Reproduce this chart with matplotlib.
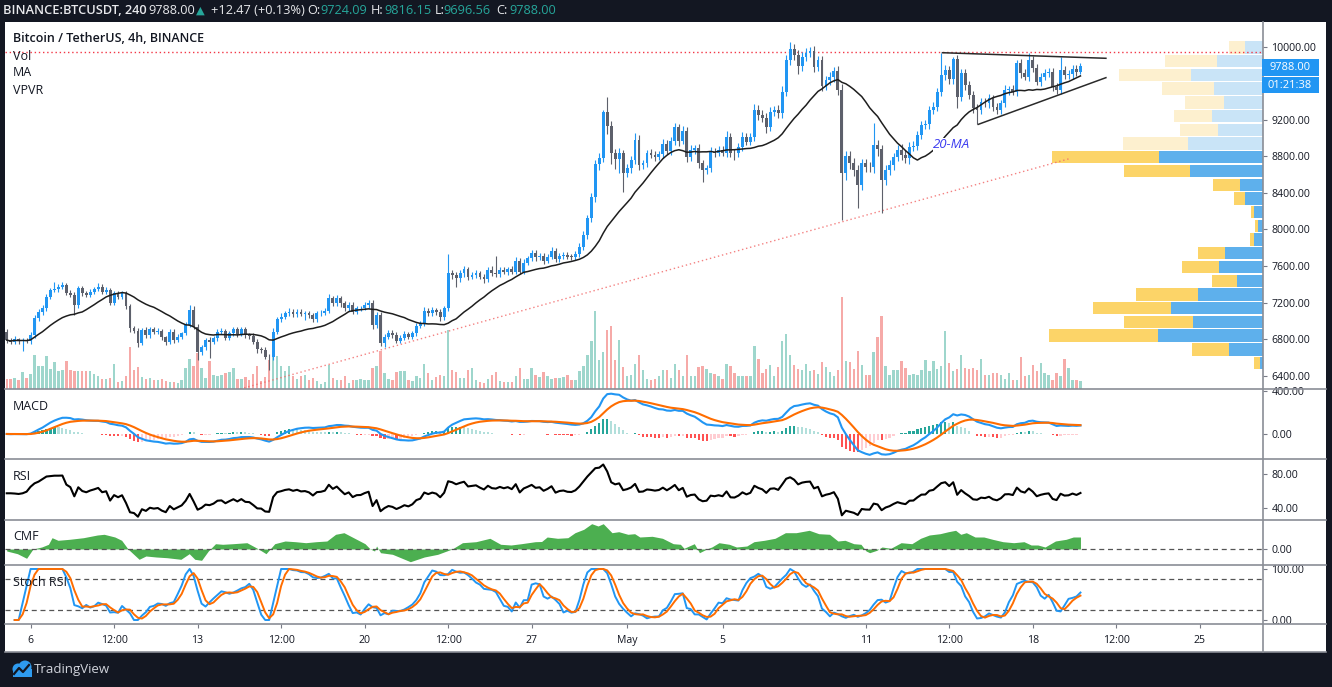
import numpy as np
import pandas as pd
import matplotlib
matplotlib.use("Agg")
import matplotlib.pyplot as plt
from matplotlib.patches import Rectangle, Circle
from matplotlib.lines import Line2D

plt.rcParams['font.family'] = ['Open Sans', 'DejaVu Sans']

# ---------------- data (4h candles, 5 Apr 00:00 -> 20 May 00:00) ----------------
first_open = 6882.0
close = [
    6790, 6770, 6800, 6780, 6790, 6775, 6846, 7028, 7100, 7138,
    7265, 7338, 7350, 7375, 7393, 7310, 7284, 7174, 7356, 7302,
    7284, 7320, 7345, 7375, 7320, 7338, 7200, 7300, 7265, 7302,
    7163, 6919, 6893, 6762, 6900, 6846, 6908, 6882, 6893, 6820,
    6773, 6882, 6791, 6828, 6864, 6955, 7119, 6937, 6663, 6710,
    6791, 6773, 6810, 6882, 6890, 6817, 6864, 6908, 6857, 6908,
    6846, 6840, 6773, 6690, 6685, 6609, 6600, 6882, 7017, 7046,
    7083, 7101, 7075, 7101, 7075, 7083, 7064, 7017, 7083, 7090,
    7112, 7247, 7192, 7247, 7192, 7137, 7174, 7101, 7137, 7140,
    7174, 7199, 6955, 7064, 6762, 6827, 6871, 6846, 6784, 6816,
    6856, 6827, 6864, 6944, 6973, 7112, 7083, 7119, 7101, 7039,
    7137, 7520, 7502, 7465, 7520, 7564, 7483, 7502, 7520, 7483,
    7454, 7557, 7520, 7513, 7557, 7538, 7564, 7538, 7659, 7538,
    7637, 7684, 7739, 7695, 7710, 7659, 7703, 7768, 7673, 7710,
    7721, 7703, 7700, 7732, 7812, 7939, 8122, 8352, 8716, 8778,
    9289, 9130, 8834, 8768, 8834, 8615, 8670, 8761, 8980, 8706,
    8724, 8834, 8820, 8797, 8826, 8936, 8863, 8972, 9118, 8972,
    9082, 8797, 8870, 8889, 8724, 8651, 8670, 8852, 8834, 8870,
    8841, 9016, 8841, 8834, 8899, 9016, 8961, 9016, 9308, 9253,
    9217, 9125, 9290, 9308, 9271, 9508, 9855, 9971, 9910, 9789,
    9891, 9935, 9953, 9782, 9855, 9570, 9636, 9672, 9738, 9527,
    8615, 8804, 8724, 8651, 8487, 8724, 8688, 8680, 8925, 8878,
    8542, 8650, 8706, 8797, 8870, 8815, 8779, 8907, 8914, 9034,
    9144, 9150, 9307, 9344, 9508, 9690, 9745, 9645, 9862, 9453,
    9709, 9581, 9472, 9326, 9307, 9398, 9380, 9435, 9344, 9307,
    9380, 9526, 9533, 9508, 9818, 9708, 9672, 9854, 9763, 9617,
    9672, 9708, 9727, 9562, 9526, 9745, 9690, 9700, 9760, 9724.09, 9788.00,
]
upper_wick = [
    25, 20, 30, 15, 25, 20, 30, 40, 30, 35,
    30, 25, 72, 30, 35, 25, 30, 30, 30, 25,
    25, 30, 25, 35, 25, 30, 25, 30, 25, 30,
    25, 20, 25, 30, 25, 30, 25, 20, 30, 20,
    20, 25, 30, 25, 20, 30, 55, 40, 30, 25,
    25, 30, 25, 25, 30, 25, 25, 30, 25, 20,
    25, 20, 25, 25, 20, 25, 30, 40, 30, 35,
    30, 35, 30, 25, 30, 25, 30, 25, 30, 25,
    30, 45, 30, 35, 30, 25, 30, 35, 30, 25,
    35, 30, 30, 30, 30, 25, 30, 25, 30, 25,
    30, 25, 30, 35, 30, 40, 30, 35, 25, 30,
    30, 212, 40, 30, 35, 40, 30, 35, 40, 30,
    30, 35, 40, 190, 30, 35, 30, 35, 40, 30,
    35, 30, 40, 35, 30, 35, 30, 40, 35, 30,
    30, 35, 30, 30, 40, 45, 40, 50, 40, 60,
    20, 164, 60, 50, 60, 40, 50, 40, 72, 50,
    40, 35, 50, 40, 35, 50, 40, 45, 50, 40,
    45, 40, 50, 40, 45, 40, 35, 50, 40, 45,
    40, 60, 40, 40, 45, 50, 40, 45, 60, 55,
    50, 60, 45, 45, 50, 60, 50, 84, 60, 55,
    50, 55, 45, 50, 45, 40, 45, 50, 45, 55,
    60, 60, 50, 55, 60, 50, 45, 45, 237, 50,
    50, 60, 50, 45, 50, 60, 50, 55, 50, 45,
    45, 50, 45, 50, 45, 244, 50, 45, 22, 45,
    45, 45, 40, 45, 50, 40, 45, 50, 40, 45,
    40, 50, 40, 45, 40, 45, 50, 80, 45, 45,
    40, 50, 40, 45, 40, 146, 45, 40, 45, 40, 28.15,
]
lower_wick = [
    30, 25, 20, 30, 105, 20, 25, 30, 25, 30,
    25, 30, 20, 30, 25, 30, 25, 109, 30, 30,
    25, 25, 30, 20, 25, 30, 25, 30, 25, 20,
    30, 40, 30, 45, 25, 30, 30, 25, 25, 30,
    40, 25, 35, 20, 25, 20, 25, 30, 91, 35,
    25, 183, 25, 30, 25, 30, 25, 25, 30, 25,
    30, 35, 30, 40, 35, 30, 137, 30, 25, 30,
    25, 30, 35, 30, 25, 60, 30, 25, 30, 25,
    25, 30, 30, 25, 35, 30, 25, 30, 25, 30,
    25, 30, 40, 35, 40, 45, 30, 35, 30, 25,
    25, 30, 25, 30, 25, 30, 25, 30, 35, 40,
    30, 30, 40, 91, 35, 40, 35, 30, 35, 30,
    35, 30, 30, 35, 30, 30, 35, 30, 25, 30,
    30, 25, 30, 35, 30, 35, 30, 25, 30, 30,
    30, 25, 30, 35, 30, 35, 40, 45, 50, 60,
    40, 80, 120, 110, 150, 200, 40, 50, 45, 60,
    40, 45, 40, 50, 40, 45, 40, 50, 45, 60,
    40, 60, 45, 40, 50, 130, 40, 45, 40, 35,
    40, 50, 45, 70, 40, 45, 40, 35, 45, 50,
    45, 70, 50, 45, 50, 55, 50, 50, 55, 87,
    55, 50, 45, 60, 50, 60, 45, 50, 55, 60,
    511, 70, 60, 70, 248, 60, 55, 50, 60, 70,
    357, 60, 55, 50, 45, 55, 50, 60, 50, 45,
    40, 45, 50, 45, 50, 45, 50, 55, 50, 127,
    45, 50, 45, 50, 154, 45, 40, 50, 45, 40,
    45, 40, 50, 40, 45, 50, 40, 45, 40, 40,
    45, 40, 45, 50, 45, 40, 45, 40, 50, 40, 27.53,
]
volume = [
    10.3, 10.3, 11, 9.3, 16.7, 11, 15, 34.3, 23.3, 23.3,
    33.3, 20, 27, 18.3, 19.3, 27.7, 19.3, 17.7, 17.7, 17.7,
    17.7, 17.7, 15, 13.3, 10.3, 10.3, 11, 25, 6.7, 7.7,
    13.3, 42, 18.7, 21.7, 12, 10.3, 11.3, 9.3, 8.7, 10.3,
    7.7, 7, 6.7, 6, 8.7, 21, 30, 22.7, 36, 21,
    11, 28.3, 14.3, 12.7, 14.3, 16, 17, 21, 10.3, 10,
    11.7, 8.7, 15, 23.3, 7.7, 11.7, 29.3, 34.3, 33.3, 23.3,
    17.7, 23.3, 13.3, 10, 13.3, 14.3, 9.3, 11, 7.7, 5.3,
    6.7, 24.3, 11, 9.3, 9.3, 12.7, 6, 8.7, 9.3, 10,
    9.3, 9.3, 21, 22.7, 37.7, 16, 10, 9.3, 16.7, 17.7,
    17.7, 8.7, 7.7, 13.3, 11, 25.3, 16, 8.7, 12, 14.3,
    12.7, 58.7, 18.7, 16.7, 11, 11, 19.3, 21, 9.3, 6.7,
    6, 10, 14.3, 16.7, 7.7, 6.7, 6.7, 6.7, 13.3, 21,
    10, 10, 21, 14.3, 12, 16.7, 12.7, 10, 11, 11,
    12, 14.3, 8.7, 8.7, 17.7, 22.7, 34.3, 48.3, 77.7, 29.3,
    36.7, 59.3, 62.7, 28.7, 48.7, 21.7, 12.7, 14.3, 24.7, 33.7,
    18.7, 10, 9.3, 10, 13.3, 18.7, 19.3, 10.7, 24.7, 18.7,
    12.7, 34.3, 12.7, 12.7, 21.7, 22.7, 20.3, 16, 15.3, 13.3,
    10.3, 25, 23.3, 16, 12.7, 13.3, 13.3, 12.7, 42.7, 30.3,
    16, 20.3, 23.7, 12.7, 21.7, 47.7, 55.3, 33.7, 24.3, 20.3,
    19.3, 25.3, 18.3, 19.3, 15, 27, 21.7, 16.7, 12.7, 18.7,
    91.7, 27.7, 27, 20.3, 37.7, 24.3, 14.3, 14.3, 36.7, 52,
    72.7, 22.7, 14.3, 19.3, 19.3, 28.3, 21, 14.3, 15.3, 14.3,
    18.7, 29.3, 17.7, 28.3, 20.3, 23.3, 58.3, 26, 17.7, 20,
    33.7, 21, 20, 21, 19.3, 30, 14.3, 14.3, 16, 16,
    14.3, 10, 16, 9.3, 9.3, 32, 12.7, 14.3, 24.3, 17.7,
    26, 16, 14.3, 9.3, 16, 12.7, 30, 21, 9.3, 9.3, 7.7,
]
# RSI for the first candles (their history lies before the visible range)
rsi_head = [57.3, 57.3, 57.0, 56.5, 57.3, 59.2, 65, 69, 71, 74, 77, 77.5, 78, 78]
# Chaikin Money Flow: candle position -> value
cmf_idx = [0, 2.7, 5, 6.6, 8.8, 10.5, 11.4, 12.9, 15.8, 19.3, 22.8, 24.5, 27.2, 28.9,
           30.5, 31.5, 33.3, 35, 37.6, 40.3, 43.8, 45.9, 47.3, 49, 50.7, 52.5, 54.3,
           56.9, 60.4, 63, 65.2, 67.4, 70, 72.6, 75.2, 77.8, 80.5, 82.7, 84.8, 87.5,
           90.1, 91.4, 92.5, 93, 94, 97, 101.5, 105, 108.4, 112, 114.6, 118, 121.5,
           124.2, 126.8, 129.4, 132.9, 134.5, 135.9, 138.5, 141.1, 142.9, 145.1, 147.1,
           148.7, 150, 152.2, 153.9, 156.2, 157.9, 159.2, 162.3, 164.9, 167.6, 169.4,
           170.3, 172.9, 174.2, 176.4, 177.3, 179.1, 181.7, 183.5, 186.1, 187.9, 190.5,
           193.2, 195.8, 198.5, 201.8, 204.2, 206.9, 209, 210.8, 213, 214.8, 216.1, 217,
           218.8, 220.1, 222.3, 224.9, 227.6, 229.8, 232, 234.7, 236.8, 238.6, 239.9,
           241.3, 243.5, 245.7, 247.9, 250.5, 253.2, 255.8, 257.6, 259.3, 261.1, 263.7,
           266.4, 268.2, 270]
cmf_val = [-0.02, -0.047, -0.093, 0, 0.02, 0.047, 0.113, 0.087, 0.097, 0.113, 0.14, 0.147,
           0.12, 0.087, 0, -0.037, -0.103, -0.07, -0.08, -0.087, -0.103, -0.047, -0.103,
           -0.113, -0.02, 0.053, 0.047, 0.053, 0.063, 0.007, -0.047, 0.053, 0.08, 0.073,
           0.063, 0.073, 0.08, 0.147, 0.163, 0.107, 0.053, 0, -0.02, 0.03, -0.037, -0.053,
           -0.127, -0.08, -0.053, 0, 0.063, 0.073, 0.107, 0.047, 0.04, 0.053, 0.073, 0.075,
           0.12, 0.107, 0.113, 0.163, 0.197, 0.253, 0.23, 0.253, 0.163, 0.173, 0.147, 0.153,
           0.12, 0.127, 0.107, 0.053, 0.047, 0.007, 0.053, -0.037, 0.007, 0.02, 0.063,
           0.047, 0.02, 0.03, 0.073, 0.087, 0.107, 0.163, 0.163, 0.187, 0.153, 0.147, 0.08,
           0.087, 0.053, 0.047, -0.02, -0.037, -0.013, 0.02, 0.007, 0.063, 0.053, 0.107,
           0.14, 0.153, 0.173, 0.187, 0.147, 0.163, 0.12, 0.12, 0.097, 0.073, 0.063, 0.073,
           0.04, 0.04, 0.02, 0.08, 0.097, 0.12, 0.12]
# Visible-range volume profile, 24 rows from bottom to top
vp_low, vp_high = 6463.0, 10067.0
vp_up = [2.7, 33.7, 104.7, 69.7, 91.7, 64.7, 25.7, 43.7, 37.7, 9, 5, 9,
         17.7, 23, 73, 104, 75, 45, 50.7, 39, 49, 71.7, 45.7, 17.7]
vp_down = [6, 37, 109, 69, 78, 62, 25, 37, 27, 3.7, 2.7, 2.7,
           11, 26.7, 66, 106.7, 64.7, 37.7, 38.3, 38.7, 51.7, 72.3, 52, 16.3]
vp_in_value_area = [1, 1, 1, 1, 1, 1, 1, 1, 1, 1, 1, 1, 1, 1, 1, 1,
                    0, 0, 0, 0, 0, 0, 0, 0]
xtick_pos = [6, 27, 48, 69, 90, 111, 132, 156, 180, 216, 237, 258, 279, 300]
xtick_lab = ['6', '12:00', '13', '12:00', '20', '12:00', '27', 'May', '5',
             '11', '12:00', '18', '12:00', '25']
price_ticks = [6400, 6800, 7200, 7600, 8000, 8400, 8800, 9200, 10000]
resistance_level = 9945
trend_x, trend_y = [58.7, 267.4], [6255, 8777]
tri_up_x, tri_up_y = [235.3, 276.4], [9934, 9873]
tri_lo_x, tri_lo_y = [244.3, 276.4], [9150, 9661]

# ---------------- derived series ----------------
c = np.array(close, dtype=float)
o = np.r_[first_open, c[:-1]]
hi = np.maximum(o, c) + np.array(upper_wick)
lo = np.minimum(o, c) - np.array(lower_wick)
v = np.array(volume, dtype=float)
n = len(c)
x = np.arange(n)
up = c >= o

cs = pd.Series(c)
ma20 = cs.rolling(20, min_periods=1).mean()
macd = cs.ewm(span=12, adjust=False).mean() - cs.ewm(span=26, adjust=False).mean()
signal = macd.ewm(span=9, adjust=False).mean()
hist = macd - signal
d = cs.diff()
g = d.clip(lower=0).ewm(alpha=1/14, adjust=False).mean()
l_ = (-d.clip(upper=0)).ewm(alpha=1/14, adjust=False).mean()
rsi = 100 - 100 / (1 + g / l_)
rsi.iloc[:len(rsi_head)] = rsi_head
rlo = rsi.rolling(14, min_periods=2).min()
rhi = rsi.rolling(14, min_periods=2).max()
stoch = 100 * (rsi - rlo) / (rhi - rlo)
k = stoch.rolling(3, min_periods=1).mean()
dd = k.rolling(3, min_periods=1).mean()

# ---------------- figure ----------------
W, H = 1332, 687
fig = plt.figure(figsize=(W / 100, H / 100), dpi=100)
fig.patch.set_facecolor('#131722')

def rect(x0, y0, x1, y1):
    return [x0 / W, 1 - y1 / H, (x1 - x0) / W, (y1 - y0) / H]

fig.add_artist(Rectangle((5 / W, 1 - 652 / H), (1326 - 5) / W, (652 - 22) / H,
                         transform=fig.transFigure, fc='white', ec='none', zorder=-10))

XL = (-0.43, 315.9)
YL = (6255, 10270)
TXT = '#131722'
TICKC = '#787b86'
LBL = 7.6

ax_vol = fig.add_axes(rect(5, 22, 1263, 389))
ax_vp = fig.add_axes(rect(5, 22, 1263, 389))
ax = fig.add_axes(rect(5, 22, 1263, 389))

# volume
ax_vol.set_xlim(*XL)
ax_vol.set_ylim(0, 367)
ax_vol.bar(x, v, width=0.6, color=np.where(up, '#9ed6cc', '#f6aaa8'), linewidth=0)
ax_vol.set_axis_off()

# volume profile
ax_vp.set_ylim(*YL)
ax_vp.set_xlim(1258, 0)
step = (vp_high - vp_low) / len(vp_up)
centers = vp_low + step * (np.arange(len(vp_up)) + 0.5)
va = np.array(vp_in_value_area, dtype=bool)
ax_vp.barh(centers, vp_up, height=step * 0.9, left=0,
           color=np.where(va, '#5eb0ec', '#c9e4f7'), linewidth=0)
ax_vp.barh(centers, vp_down, height=step * 0.9, left=vp_up,
           color=np.where(va, '#fcd468', '#fdf0cf'), linewidth=0)
ax_vp.set_axis_off()

# price
ax.set_xlim(*XL)
ax.set_ylim(*YL)
ax.patch.set_alpha(0)
for s in ax.spines.values():
    s.set_visible(False)
ax.axhline(resistance_level, color='#f23645', lw=1.0, ls=(0, (1, 2)), zorder=1)
ax.plot(trend_x, trend_y, color='#f26b6b', lw=1.0, ls=(0, (1, 2)), alpha=0.85, zorder=1)
col = np.where(up, '#2196f3', '#5d606b')
ax.vlines(x, lo, hi, colors=col, lw=0.8, zorder=3)
ax.bar(x, np.maximum(np.abs(c - o), 6), bottom=np.minimum(o, c), width=0.72,
       color=col, linewidth=0, zorder=3)
ax.plot(x, ma20, color='#1e1e1e', lw=1.1, zorder=4)
ax.plot(tri_up_x, tri_up_y, color='#2a2a2a', lw=1.1, zorder=4)
ax.plot(tri_lo_x, tri_lo_y, color='#2a2a2a', lw=1.1, zorder=4)
ax.text(237.7, 8925, '20-MA', color='#3b3bf0', fontsize=9.5, style='italic',
        ha='center', va='center', zorder=5,
        bbox=dict(fc='white', ec='none', pad=0.5))
ax.yaxis.tick_right()
ax.set_yticks(price_ticks)
ax.set_yticklabels([f'{t:.2f}' for t in price_ticks])
ax.set_xticks([])
ax.tick_params(axis='y', length=3, color=TICKC, pad=3, labelsize=LBL, labelcolor=TXT)

def panel(y0, y1, ylim, ticks):
    a = fig.add_axes(rect(5, y0, 1263, y1))
    a.set_xlim(*XL)
    a.set_ylim(*ylim)
    a.patch.set_alpha(0)
    for s in a.spines.values():
        s.set_visible(False)
    a.yaxis.tick_right()
    a.set_yticks(ticks)
    a.set_yticklabels([f'{t:.2f}' for t in ticks])
    a.set_xticks([])
    a.tick_params(axis='y', length=3, color=TICKC, pad=3, labelsize=LBL, labelcolor=TXT)
    return a

# MACD
ax_m = panel(389, 459, (-233, 419), [0, 400])
hcol = []
for i in range(n):
    prev = hist[i - 1] if i > 0 else hist[i]
    if hist[i] >= 0:
        hcol.append('#26a69a' if hist[i] > prev else '#b2dfdb')
    else:
        hcol.append('#ffcdd2' if hist[i] > prev else '#ff5252')
ax_m.bar(x, hist, width=0.55, color=hcol, linewidth=0)
ax_m.plot(x, macd, color='#2196f3', lw=1.5)
ax_m.plot(x, signal, color='#ff6d00', lw=1.5)

# RSI
ax_r = panel(459, 520, (25.9, 97.6), [40, 80])
ax_r.plot(x, rsi, color='black', lw=1.5)

# CMF
ax_c = panel(520, 565, (-0.16, 0.29), [0])
ax_c.fill_between(cmf_idx, 0, cmf_val, color='#4caf50', lw=0)
ax_c.axhline(0, color='#555555', lw=0.9, ls=(0, (4, 3)))

# Stoch RSI
ax_s = panel(565, 624, (-7.8, 107.8), [0, 100])
ax_s.axhline(80, color='#555555', lw=0.9, ls=(0, (4, 3)))
ax_s.axhline(20, color='#555555', lw=0.9, ls=(0, (4, 3)))
ax_s.plot(x, k, color='#2196f3', lw=1.4)
ax_s.plot(x, dd, color='#ff6d00', lw=1.4)
ax_s.set_xticks(xtick_pos)
ax_s.set_xticklabels(xtick_lab)
ax_s.tick_params(axis='x', length=3, color=TICKC, pad=5, labelsize=LBL, labelcolor=TXT)

# separators
SEP = '#8a8d96'
for yy in (389, 459, 520, 565, 624, 652):
    fig.add_artist(Line2D([5 / W, 1326 / W], [1 - yy / H] * 2, transform=fig.transFigure,
                          color=SEP, lw=1.2, zorder=20))
fig.add_artist(Line2D([1263 / W] * 2, [1 - 22 / H, 1 - 652 / H], transform=fig.transFigure,
                      color=SEP, lw=1.2, zorder=20))

# last price / countdown boxes
for (y0, y1, s) in ((59, 76, '9788.00'), (77, 93, '01:21:38')):
    fig.add_artist(Rectangle((1262 / W, 1 - y1 / H), (1319 - 1262) / W, (y1 - y0) / H,
                             transform=fig.transFigure, fc='#2196f3', ec='none', zorder=21))
    fig.text(1290 / W, 1 - (y0 + y1) / 2 / H, s, color='white', fontsize=LBL + 0.4,
             ha='center', va='center', zorder=22)

# legend texts
def ftext(xp, yp, s, **kw):
    fig.text(xp / W, 1 - yp / H, s, va='center', ha='left', zorder=25, **kw)

ftext(13, 39, 'Bitcoin / TetherUS, 4h, BINANCE', color=TXT, fontsize=9, fontweight='semibold')
ftext(13, 56, 'Vol', color=TXT, fontsize=9)
ftext(13, 73, 'MA', color=TXT, fontsize=9)
ftext(13, 90, 'VPVR', color=TXT, fontsize=9)
ftext(13, 407, 'MACD', color=TXT, fontsize=9)
ftext(13, 476, 'RSI', color=TXT, fontsize=9)
ftext(13, 537, 'CMF', color=TXT, fontsize=9)
ftext(13, 582, 'Stoch RSI', color=TXT, fontsize=9)

# header
TEAL = '#26a69a'
WH = '#e8e9ec'
HS = 9.2
ftext(3, 11, 'BINANCE:BTCUSDT, 240', color=WH, fontsize=HS, fontweight='semibold')
ftext(148, 11, '9788.00', color=WH, fontsize=HS)
ftext(196, 11, '▲', color=TEAL, fontsize=HS - 1, family=['DejaVu Sans'])
ftext(211, 11, '+12.47 (+0.13%)', color=WH, fontsize=HS)
for lab, lx, val, vx in (('O:', 307, '9724.09', 320), ('H:', 371, '9816.15', 384),
                         ('L:', 435, '9696.56', 443), ('C:', 496, '9788.00', 509)):
    ftext(lx, 11, lab, color=WH, fontsize=HS)
    ftext(vx, 11, val, color=TEAL, fontsize=HS)

# TradingView logo
ax_logo = fig.add_axes(rect(10, 657, 34, 681))
ax_logo.set_xlim(0, 24)
ax_logo.set_ylim(24, 0)
ax_logo.set_axis_off()
BL = '#2e9bf0'
ax_logo.add_patch(Circle((8, 12), 5.5, fc=BL, ec='none'))
ax_logo.add_patch(Circle((15, 10), 6.5, fc=BL, ec='none'))
ax_logo.add_patch(Rectangle((2.5, 12), 19.5, 7.5, fc=BL, ec='none'))
ax_logo.plot([4, 9, 13, 19], [17, 11, 15, 8], color='#131722', lw=1.6)
ftext(34, 669, 'TradingView', color='#d1d4dc', fontsize=9.5)

fig.savefig('out.png', dpi=100, facecolor=fig.get_facecolor())
